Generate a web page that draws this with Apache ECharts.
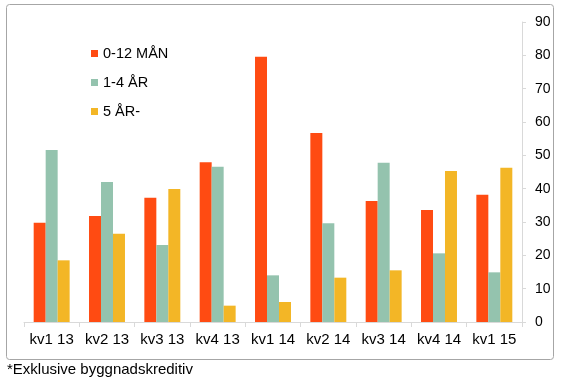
<!DOCTYPE html>
<html><head><meta charset="utf-8">
<script src="https://cdn.jsdelivr.net/npm/echarts@6/dist/echarts.min.js"></script>
<style>html,body{margin:0;padding:0;background:#fff}#c{width:564px;height:378px}</style>
</head><body><div id="c"></div>
<script>
const categories = ['kv1 13','kv2 13','kv3 13','kv4 13','kv1 14','kv2 14','kv3 14','kv4 14','kv1 15'];
const seriesNames = ['0-12 MÅN','1-4 ÅR','5 ÅR-'];
const s0_12man = [29.8, 31.8, 37.3, 47.9, 79.6, 56.7, 36.3, 33.6, 38.2];
const s1_4ar  = [51.6, 42.0, 23.1, 46.6, 14.0, 29.6, 47.8, 20.6, 14.9];
const s5ar    = [18.5, 26.5, 39.9, 4.9, 6.0, 13.3, 15.5, 45.3, 46.3];
const yTicks = {min:0, max:90, interval:10};
const footnote = '*Exklusive byggnadskreditiv';

const colors = ['#FF4B12','#94C3AE','#F3B626'];
const font = '"Liberation Sans", Arial, sans-serif';
const chart = echarts.init(document.getElementById('c'), null, {renderer:'canvas'});
const data = [s0_12man, s1_4ar, s5ar];
chart.setOption({
  animation:false,
  color: colors,
  textStyle:{fontFamily:font},
  graphic:[
    {type:'rect', shape:{x:6.5,y:4.5,width:547,height:355,r:3}, style:{fill:'none',stroke:'#a6a6a6',lineWidth:1}, z:-1},
    {type:'text', left:7, top:362, style:{text:footnote, font:'15px '+font, fill:'#000'}}
  ],
  legend:{
    orient:'vertical', left:91, top:46, padding:0, itemWidth:7, itemHeight:7, itemGap:14,
    icon:'rect', textStyle:{fontSize:14.5, color:'#000', fontFamily:font, lineHeight:15},
    data: seriesNames
  },
  grid:{left:24, right:42, top:22, bottom:56, containLabel:false},
  xAxis:{
    type:'category', data:categories,
    axisLine:{lineStyle:{color:'#d9d9d9'}},
    axisTick:{show:true, length:5, lineStyle:{color:'#d9d9d9'}, alignWithLabel:false},
    axisLabel:{color:'#000', fontSize:15, margin:10, fontFamily:font, interval:0}
  },
  yAxis:{
    type:'value', position:'right', min:yTicks.min, max:yTicks.max, interval:yTicks.interval,
    axisLine:{show:true, lineStyle:{color:'#d9d9d9'}},
    axisTick:{show:true, length:4, lineStyle:{color:'#d9d9d9'}},
    splitLine:{show:false},
    axisLabel:{color:'#000', fontSize:14, margin:13, fontFamily:font}
  },
  series: seriesNames.map((n,i)=>({
    name:n, type:'bar', data:data[i], barGap:'0%', barCategoryGap:'35%',
    itemStyle:{color:colors[i]}
  }))
});
</script></body></html>
